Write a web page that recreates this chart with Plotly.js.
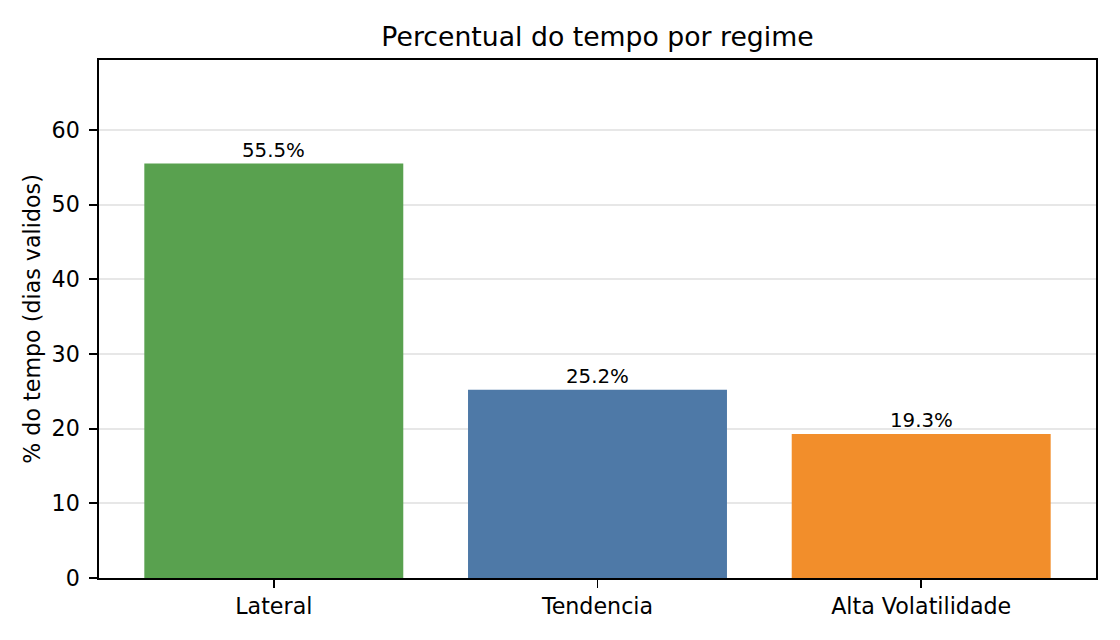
<!DOCTYPE html>
<html>
<head>
<meta charset="utf-8">
<script src="https://cdn.plot.ly/plotly-3.0.1.min.js"></script>
<style>
  html, body { margin: 0; padding: 0; background: #ffffff; }
  #plotDiv { width: 1120px; height: 640px; }
</style>
</head>
<body>
<div id="plotDiv"></div>
<script>
'use strict';

// regimes and share of valid days
const regimes = ['Lateral', 'Tendencia', 'Alta Volatilidade'];
const pct = [55.5, 25.2, 19.3];
const barColors = ['#59a14f', '#4e79a7', '#f28e2b'];
const yTicks = [0, 10, 20, 30, 40, 50, 60];

const font = 'DejaVu Sans, Liberation Sans, sans-serif';

var data = [{
    type: 'bar',
    x: regimes,
    y: pct,
    width: 0.8,
    marker: {color: barColors, line: {width: 0}},
    hoverinfo: 'skip'
}];

// value labels above each bar
var notes = regimes.map(function (r, i) {
    return {
        x: r, y: pct[i],
        text: pct[i].toFixed(1) + '%',
        showarrow: false,
        xanchor: 'center', yanchor: 'bottom',
        yshift: 0,
        font: {family: font, size: 19.8, color: '#000000'}
    };
});

var layout = {
    width: 1120,
    height: 640,
    paper_bgcolor: '#ffffff',
    plot_bgcolor: '#ffffff',
    font: {family: font, size: 22, color: '#000000'},
    showlegend: false,
    margin: {l: 99, r: 24, t: 60, b: 62, pad: 0},
    title: {
        text: 'Percentual do tempo por regime',
        font: {family: font, size: 26.7, color: '#000000'},
        x: 0.5, xref: 'paper', xanchor: 'center',
        y: 1 - 37 / 640, yanchor: 'middle'
    },
    xaxis: {
        type: 'category',
        range: [-0.54, 2.54],
        showgrid: false,
        showline: true, linecolor: '#000000', linewidth: 1.8, mirror: true,
        ticks: 'outside', ticklen: 8, tickwidth: 1.8, tickcolor: '#000000',
        tickfont: {family: font, size: 22.2, color: '#000000'},
        ticklabelstandoff: 0,
        zeroline: false
    },
    yaxis: {
        range: [0, 69.375],
        tickvals: yTicks,
        ticktext: yTicks.map(String),
        showgrid: true, gridcolor: 'rgba(176,176,176,0.3)', gridwidth: 1.8,
        layer: 'above traces',
        showline: true, linecolor: '#000000', linewidth: 1.8, mirror: true,
        ticks: 'outside', ticklen: 8, tickwidth: 1.8, tickcolor: '#000000',
        tickfont: {family: font, size: 22.2, color: '#000000'},
        ticklabelstandoff: 5,
        zeroline: false,
        title: {
            text: '% do tempo (dias validos)',
            font: {family: font, size: 22.2, color: '#000000'},
            standoff: 5
        }
    },
    annotations: notes
};

Plotly.newPlot('plotDiv', data, layout, {staticPlot: true, displayModeBar: false});
</script>
</body>
</html>
